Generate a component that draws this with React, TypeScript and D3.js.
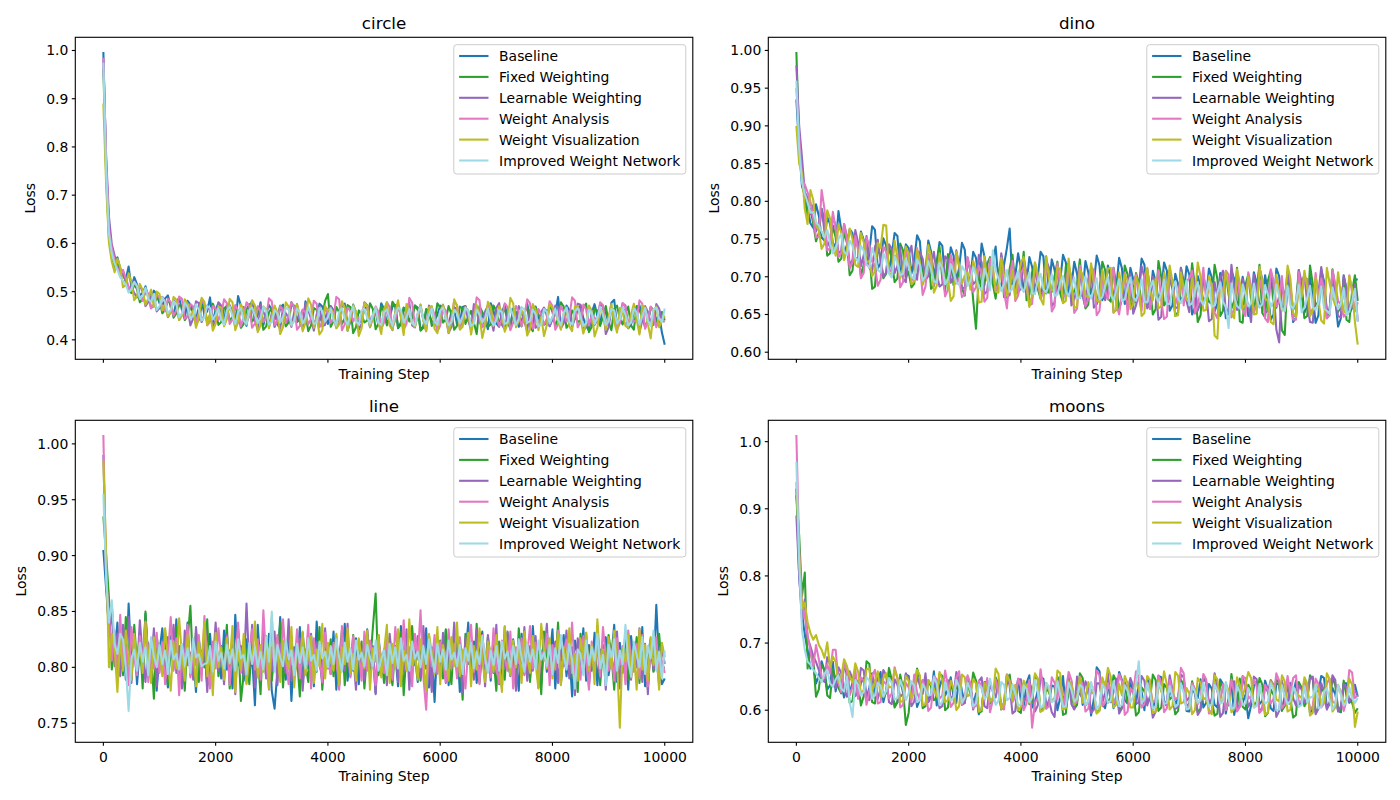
import React from "react";
import * as d3 from "d3";

// ---------- data (loss sampled every 50 training steps) ----------
const steps: number[] = d3.range(0, 10001, 50);
const seriesNames = ["Baseline", "Fixed Weighting", "Learnable Weighting", "Weight Analysis", "Weight Visualization", "Improved Weight Network"];
const seriesColors = ["#1f77b4", "#2ca02c", "#9467bd", "#e377c2", "#bcbd22", "#9edae5"];
const panelTitles = ["circle", "dino", "line", "moons"];
const xTicks = [0, 2000, 4000, 6000, 8000, 10000];
const circleTicks = [0.4, 0.5, 0.6, 0.7, 0.8, 0.9, 1.0];
const dinoTicks = [0.6, 0.65, 0.7, 0.75, 0.8, 0.85, 0.9, 0.95, 1.0];
const lineTicks = [0.75, 0.8, 0.85, 0.9, 0.95, 1.0];
const moonsTicks = [0.6, 0.7, 0.8, 0.9, 1.0];

// circle
const circleBaseline = [.997,
.760,.640,.585,.562,.571,.548,.533,.525,.552,.508,.530,.515,.492,.497,.511,.489,.483,.502,.494,.476,
.471,.486,.492,.468,.451,.479,.487,.462,.445,.481,.473,.455,.440,.470,.483,.452,.459,.488,.437,.463,
.476,.449,.438,.474,.465,.458,.433,.491,.470,.446,.429,.467,.481,.439,.452,.478,.430,.455,.472,.462,
.427,.441,.466,.473,.431,.450,.478,.466,.445,.437,.424,.480,.462,.452,.431,.444,.475,.469,.448,.433,
.470,.461,.428,.447,.466,.475,.419,.438,.473,.456,.435,.442,.463,.470,.426,.451,.458,.430,.476,.464,
.433,.446,.469,.472,.424,.436,.467,.458,.440,.449,.471,.467,.421,.428,.461,.455,.437,.440,.452,.471,
.468,.445,.429,.459,.463,.432,.436,.468,.470,.451,.425,.437,.468,.463,.449,.443,.422,.476,.461,.434,
.427,.457,.473,.448,.430,.465,.458,.427,.441,.454,.476,.441,.430,.469,.447,.436,.464,.460,.429,.447,
.452,.489,.430,.438,.471,.462,.428,.444,.463,.471,.445,.429,.419,.456,.474,.450,.433,.466,.457,.435,
.477,.483,.428,.442,.466,.458,.424,.431,.459,.468,.472,.446,.430,.437,.466,.461,.441,.452,.415,.390];
const circleFixed = [.962,
.740,.610,.572,.548,.560,.532,.541,.519,.503,.497,.515,.505,.478,.484,.499,.493,.466,.471,.488,.482,
.455,.463,.481,.476,.446,.455,.472,.470,.441,.449,.468,.466,.433,.441,.470,.472,.436,.452,.475,.460,
.431,.437,.466,.469,.440,.447,.470,.456,.425,.433,.463,.474,.438,.445,.469,.452,.421,.428,.457,.466,
.443,.448,.471,.459,.428,.436,.474,.471,.437,.443,.462,.455,.418,.430,.466,.462,.440,.449,.481,.495,
.427,.439,.468,.457,.433,.445,.472,.468,.414,.426,.461,.452,.436,.440,.476,.464,.422,.434,.469,.458,
.430,.447,.479,.470,.425,.431,.466,.455,.438,.444,.471,.462,.419,.425,.464,.459,.429,.437,.476,.467,
.436,.442,.470,.453,.421,.429,.469,.465,.433,.448,.460,.436,.412,.470,.458,.445,.427,.432,.471,.460,
.431,.451,.466,.438,.423,.463,.455,.441,.428,.457,.470,.428,.418,.466,.452,.446,.431,.435,.473,.458,
.429,.444,.478,.469,.425,.433,.461,.452,.437,.440,.467,.475,.416,.427,.464,.461,.429,.448,.470,.437,
.420,.464,.471,.443,.432,.456,.469,.430,.421,.470,.461,.449,.426,.438,.468,.462,.433,.446,.458,.440];
const circleLearnable = [.978,
.780,.655,.598,.575,.552,.541,.536,.522,.505,.512,.497,.488,.514,.499,.470,.478,.496,.490,.459,.466,
.489,.480,.447,.458,.483,.473,.441,.452,.477,.467,.430,.444,.480,.476,.437,.451,.471,.462,.428,.440,
.478,.471,.434,.448,.472,.459,.425,.436,.466,.468,.438,.450,.471,.441,.420,.473,.458,.446,.429,.455,
.465,.432,.423,.467,.455,.445,.427,.458,.474,.439,.426,.476,.462,.443,.419,.453,.470,.428,.431,.464,
.469,.450,.425,.438,.475,.469,.436,.444,.463,.456,.421,.433,.478,.472,.440,.447,.466,.441,.424,.462,
.461,.435,.420,.458,.470,.449,.433,.468,.477,.430,.426,.454,.466,.443,.418,.471,.463,.439,.425,.457,
.473,.447,.414,.427,.468,.463,.437,.452,.469,.440,.421,.474,.459,.436,.428,.459,.471,.445,.419,.466,
.476,.431,.422,.455,.465,.448,.434,.470,.458,.437,.419,.461,.470,.425,.430,.458,.467,.450,.428,.442,
.471,.467,.424,.434,.462,.456,.433,.446,.475,.473,.417,.429,.468,.460,.431,.441,.475,.468,.412,.426,
.463,.455,.428,.449,.476,.471,.430,.436,.469,.462,.415,.440,.470,.458,.435,.431,.474,.465,.441,.448];
const circleAnalysis = [.985,
.770,.630,.590,.566,.548,.536,.545,.528,.510,.502,.521,.510,.488,.481,.503,.496,.465,.474,.494,.487,
.469,.459,.485,.478,.450,.461,.490,.485,.444,.448,.474,.469,.437,.456,.481,.474,.430,.438,.470,.465,
.441,.453,.484,.476,.433,.442,.472,.461,.428,.449,.478,.470,.425,.434,.469,.458,.437,.447,.486,.480,
.430,.440,.470,.462,.435,.451,.478,.468,.421,.429,.463,.457,.432,.444,.481,.475,.426,.437,.465,.455,
.435,.446,.489,.484,.420,.432,.467,.460,.438,.450,.444,.439,.477,.471,.427,.443,.469,.458,.423,.436,
.478,.468,.425,.441,.470,.455,.422,.433,.487,.477,.431,.448,.473,.440,.429,.463,.468,.452,.417,.429,
.469,.460,.431,.445,.481,.472,.424,.438,.466,.456,.425,.447,.488,.482,.426,.431,.472,.464,.439,.450,
.429,.443,.476,.468,.420,.435,.470,.459,.428,.449,.484,.476,.423,.439,.464,.453,.431,.444,.480,.470,
.421,.432,.470,.458,.438,.447,.488,.481,.426,.437,.473,.463,.430,.451,.446,.440,.478,.472,.425,.446,
.467,.459,.421,.434,.476,.468,.430,.452,.438,.441,.482,.475,.423,.438,.469,.456,.426,.445,.440,.437];
const circleVisual = [.890,
.720,.600,.562,.540,.568,.552,.509,.514,.538,.520,.482,.491,.516,.503,.473,.486,.504,.468,.500,.495,
.461,.472,.448,.457,.489,.483,.441,.450,.484,.475,.445,.461,.425,.445,.487,.479,.431,.454,.419,.433,
.470,.466,.428,.443,.485,.478,.420,.438,.474,.460,.437,.452,.482,.471,.416,.430,.469,.463,.424,.448,
.471,.457,.412,.426,.478,.469,.430,.441,.474,.452,.418,.435,.486,.473,.425,.447,.411,.420,.470,.461,
.466,.454,.424,.432,.480,.466,.419,.443,.472,.459,.408,.424,.476,.470,.427,.448,.467,.437,.412,.463,
.478,.429,.421,.457,.482,.446,.410,.474,.462,.434,.427,.451,.473,.440,.418,.467,.470,.423,.414,.458,
.472,.449,.415,.436,.484,.470,.421,.427,.468,.461,.411,.444,.472,.453,.404,.430,.479,.468,.429,.441,
.470,.458,.417,.433,.487,.476,.426,.439,.461,.450,.409,.422,.474,.463,.420,.447,.408,.431,.475,.466,
.456,.440,.421,.455,.466,.428,.418,.469,.470,.445,.413,.434,.471,.460,.407,.425,.466,.457,.421,.448,
.474,.437,.415,.466,.458,.429,.425,.453,.475,.442,.411,.471,.466,.432,.403,.459,.469,.426,.441,.450];
const circleImproved = [.975,
.750,.620,.580,.558,.545,.530,.522,.515,.498,.505,.520,.512,.485,.492,.508,.484,.479,.495,.462,.470,
.488,.478,.455,.462,.480,.474,.447,.455,.477,.468,.444,.450,.473,.463,.440,.447,.470,.466,.442,.452,
.465,.444,.431,.461,.469,.449,.433,.458,.466,.440,.432,.462,.467,.451,.435,.446,.469,.459,.432,.437,
.462,.455,.436,.448,.467,.463,.430,.439,.465,.457,.434,.445,.468,.452,.433,.436,.466,.460,.438,.447,
.464,.441,.430,.458,.466,.443,.431,.454,.469,.438,.432,.461,.465,.446,.434,.450,.467,.435,.431,.457,
.463,.444,.429,.453,.467,.462,.436,.447,.464,.434,.430,.456,.468,.443,.433,.451,.465,.438,.431,.460,
.467,.445,.430,.437,.462,.455,.434,.448,.466,.460,.429,.433,.463,.452,.436,.446,.465,.441,.430,.441,
.462,.457,.433,.436,.466,.450,.431,.444,.468,.462,.435,.439,.463,.453,.428,.431,.464,.458,.434,.447,
.465,.442,.430,.455,.467,.437,.432,.460,.466,.449,.429,.434,.463,.456,.433,.445,.468,.451,.431,.438,
.464,.461,.434,.443,.467,.452,.430,.436,.465,.457,.432,.448,.466,.440,.429,.463,.467,.444,.437,.465];

// dino
const dinoBaseline = [.935,
.870,.820,.808,.792,.771,.765,.796,.781,.752,.748,.779,.770,.745,.739,.787,.762,.731,.742,.763,.758,
.722,.726,.760,.749,.716,.733,.767,.762,.711,.718,.751,.741,.709,.729,.758,.754,.706,.715,.743,.738,
.704,.722,.755,.747,.699,.708,.748,.733,.701,.719,.746,.741,.695,.703,.739,.728,.694,.712,.745,.736,
.690,.699,.733,.725,.693,.744,.727,.707,.689,.721,.740,.693,.686,.716,.738,.764,.690,.702,.731,.711,
.683,.689,.726,.713,.680,.700,.733,.727,.678,.684,.723,.709,.681,.695,.729,.719,.675,.687,.720,.704,
.672,.681,.721,.706,.677,.692,.728,.715,.669,.677,.715,.699,.674,.686,.725,.711,.664,.671,.712,.697,
.666,.683,.724,.716,.661,.668,.708,.694,.670,.679,.719,.708,.655,.662,.704,.690,.667,.676,.714,.703,
.650,.659,.701,.688,.668,.673,.711,.699,.654,.664,.705,.685,.645,.652,.708,.697,.662,.670,.700,.681,
.648,.657,.706,.692,.660,.666,.702,.679,.643,.650,.711,.701,.657,.663,.698,.675,.640,.646,.705,.688,
.652,.661,.699,.673,.639,.649,.709,.694,.655,.656,.697,.670,.634,.645,.702,.683,.651,.659,.697,.696];
const dinoFixed = [.998,
.880,.845,.800,.782,.790,.771,.747,.758,.790,.776,.728,.731,.768,.752,.720,.724,.760,.745,.702,.708,
.751,.739,.701,.716,.745,.731,.684,.687,.739,.727,.698,.704,.742,.722,.693,.698,.744,.735,.699,.707,
.686,.691,.735,.723,.704,.711,.730,.684,.688,.718,.740,.696,.681,.730,.720,.689,.694,.706,.685,.675,
.719,.712,.669,.631,.704,.682,.689,.717,.726,.690,.671,.705,.722,.673,.683,.711,.729,.687,.678,.699,
.733,.669,.676,.706,.715,.684,.671,.694,.727,.679,.680,.701,.720,.678,.666,.714,.718,.672,.681,.690,
.723,.681,.658,.663,.713,.698,.664,.676,.720,.709,.671,.667,.712,.688,.657,.671,.715,.703,.665,.660,
.705,.692,.664,.674,.710,.685,.650,.657,.721,.700,.662,.668,.709,.681,.648,.653,.712,.694,.669,.672,
.718,.686,.640,.649,.701,.679,.667,.664,.716,.697,.648,.655,.706,.676,.658,.668,.712,.641,.639,.689,
.703,.670,.651,.683,.716,.652,.646,.695,.708,.661,.659,.674,.629,.623,.698,.687,.656,.665,.709,.678,
.645,.648,.715,.690,.661,.667,.704,.676,.645,.654,.710,.685,.653,.662,.697,.643,.640,.681,.702,.668];
const dinoLearnable = [.980,
.900,.858,.812,.805,.783,.795,.760,.772,.790,.760,.740,.748,.781,.766,.731,.735,.770,.754,.716,.722,
.762,.745,.714,.729,.754,.712,.706,.740,.749,.720,.700,.706,.743,.737,.705,.714,.739,.698,.693,.728,
.741,.709,.696,.733,.724,.695,.701,.716,.733,.704,.687,.690,.727,.723,.692,.700,.735,.713,.684,.686,
.725,.707,.690,.694,.729,.719,.677,.681,.721,.702,.684,.688,.731,.710,.672,.676,.718,.698,.680,.684,
.724,.705,.667,.671,.716,.692,.678,.680,.722,.712,.661,.666,.710,.689,.680,.701,.709,.662,.670,.686,
.713,.674,.660,.697,.711,.659,.664,.683,.708,.669,.685,.705,.653,.656,.702,.681,.675,.692,.704,.651,
.662,.678,.714,.699,.658,.664,.700,.688,.643,.647,.706,.675,.690,.696,.658,.660,.712,.683,.668,.653,
.707,.691,.655,.666,.701,.680,.641,.644,.693,.673,.698,.708,.652,.658,.716,.684,.656,.662,.697,.675,
.662,.640,.703,.679,.712,.697,.652,.655,.704,.686,.630,.613,.690,.671,.707,.682,.647,.650,.709,.693,
.702,.665,.640,.639,.699,.678,.713,.688,.653,.657,.707,.672,.648,.646,.701,.684,.657,.660,.690,.641];
const dinoAnalysis = [.950,
.885,.830,.822,.812,.800,.778,.752,.753,.815,.790,.735,.738,.786,.763,.726,.731,.770,.749,.711,.719,
.754,.735,.698,.705,.752,.742,.720,.715,.688,.696,.740,.733,.706,.710,.727,.729,.686,.693,.735,.721,
.695,.700,.738,.717,.676,.687,.730,.725,.690,.694,.722,.707,.674,.683,.729,.714,.691,.698,.673,.677,
.726,.709,.680,.686,.715,.703,.667,.672,.724,.711,.682,.691,.710,.680,.658,.699,.721,.668,.675,.705,
.712,.685,.662,.664,.719,.696,.672,.678,.709,.707,.654,.661,.718,.689,.675,.674,.713,.701,.652,.658,
.715,.687,.661,.670,.714,.708,.649,.655,.697,.682,.670,.694,.712,.663,.650,.678,.705,.650,.687,.690,
.703,.672,.655,.701,.711,.657,.674,.684,.709,.668,.644,.647,.705,.693,.663,.676,.700,.662,.694,.698,
.708,.651,.663,.680,.712,.669,.686,.691,.652,.645,.694,.677,.708,.703,.646,.659,.702,.672,.656,.648,
.706,.688,.653,.664,.697,.679,.645,.640,.710,.695,.661,.667,.701,.654,.676,.686,.643,.643,.706,.675,
.699,.697,.650,.658,.705,.671,.698,.683,.645,.649,.709,.690,.668,.663,.647,.652,.702,.679,.654,.666];
const dinoVisual = [.900,
.850,.838,.790,.770,.815,.802,.768,.761,.737,.744,.788,.777,.742,.728,.770,.758,.722,.736,.764,.750,
.716,.713,.758,.746,.719,.721,.701,.707,.745,.738,.769,.768,.706,.701,.748,.724,.698,.711,.740,.731,
.690,.694,.736,.719,.689,.703,.742,.727,.679,.688,.731,.712,.694,.697,.668,.674,.733,.715,.691,.702,
.706,.683,.721,.708,.666,.667,.727,.695,.713,.713,.680,.679,.725,.702,.675,.686,.709,.671,.697,.719,
.726,.692,.660,.676,.719,.704,.671,.663,.726,.698,.682,.682,.713,.710,.665,.668,.724,.689,.659,.660,
.710,.703,.675,.673,.718,.691,.669,.666,.709,.684,.711,.712,.652,.657,.706,.679,.703,.695,.657,.664,
.701,.688,.648,.652,.712,.681,.669,.698,.658,.661,.705,.676,.715,.693,.648,.649,.706,.685,.670,.667,
.698,.674,.719,.700,.655,.656,.701,.689,.622,.618,.693,.671,.707,.684,.651,.645,.710,.692,.658,.663,
.700,.679,.650,.651,.713,.694,.671,.668,.640,.637,.703,.682,.655,.660,.715,.698,.652,.647,.691,.673,
.708,.686,.648,.655,.699,.669,.642,.638,.712,.691,.673,.662,.706,.677,.655,.650,.701,.684,.640,.610];
const dinoImproved = [.960,
.870,.825,.810,.798,.785,.786,.772,.768,.760,.752,.762,.745,.731,.738,.750,.757,.733,.729,.748,.741,
.725,.720,.741,.734,.716,.712,.738,.727,.709,.706,.731,.722,.704,.699,.727,.718,.702,.704,.724,.713,
.700,.697,.723,.716,.695,.701,.721,.709,.694,.692,.719,.711,.690,.696,.717,.705,.692,.689,.714,.708,
.688,.694,.713,.702,.686,.683,.711,.700,.682,.735,.708,.698,.681,.691,.709,.680,.684,.697,.707,.686,
.680,.693,.706,.678,.677,.695,.704,.684,.679,.690,.703,.675,.676,.692,.701,.681,.674,.687,.699,.672,
.672,.689,.701,.679,.671,.685,.698,.670,.673,.688,.700,.676,.669,.682,.697,.668,.670,.686,.699,.673,
.668,.680,.697,.667,.666,.684,.695,.674,.667,.678,.696,.664,.664,.683,.694,.671,.665,.676,.695,.662,
.665,.681,.693,.669,.663,.675,.694,.660,.662,.679,.692,.667,.660,.632,.691,.673,.661,.658,.690,.677,
.661,.665,.691,.671,.659,.664,.689,.676,.660,.669,.690,.674,.657,.655,.688,.662,.658,.667,.689,.653,
.659,.672,.688,.660,.656,.666,.687,.658,.655,.651,.686,.670,.657,.664,.685,.649,.654,.668,.684,.640];

// line
const lineBaseline = [.905,
.870,.835,.856,.812,.840,.798,.831,.789,.857,.803,.824,.785,.817,.796,.848,.808,.790,.826,.779,.814,
.835,.801,.782,.828,.799,.843,.787,.820,.805,.840,.793,.811,.778,.826,.803,.816,.784,.830,.796,.819,
.807,.790,.833,.798,.815,.781,.847,.802,.819,.788,.825,.795,.810,.766,.838,.800,.816,.792,.830,.779,
.763,.797,.845,.806,.789,.823,.770,.818,.801,.836,.786,.813,.799,.828,.783,.841,.804,.791,.821,.808,
.794,.832,.780,.815,.803,.839,.788,.811,.797,.826,.785,.819,.806,.834,.792,.813,.777,.829,.800,.816,
.789,.827,.798,.812,.783,.837,.805,.820,.795,.831,.810,.787,.824,.799,.835,.782,.818,.769,.822,.806,
.791,.833,.784,.819,.802,.826,.778,.814,.809,.840,.796,.823,.786,.811,.832,.794,.817,.788,.828,.801,
.815,.782,.836,.804,.793,.825,.807,.779,.830,.798,.813,.790,.837,.803,.821,.785,.827,.796,.809,.834,
.781,.818,.806,.829,.792,.815,.774,.824,.811,.801,.835,.788,.820,.797,.831,.784,.816,.805,.827,.793,
.810,.838,.787,.822,.799,.814,.780,.828,.804,.819,.791,.836,.783,.812,.825,.797,.856,.802,.785,.790];
const lineFixed = [.935,
.900,.862,.798,.830,.807,.821,.793,.845,.809,.789,.838,.803,.826,.781,.850,.797,.815,.772,.828,.806,
.795,.833,.784,.818,.802,.837,.790,.811,.779,.824,.855,.796,.831,.787,.815,.800,.843,.783,.809,.827,
.792,.819,.804,.838,.781,.812,.797,.829,.770,.794,.816,.785,.825,.801,.810,.776,.834,.798,.821,.788,
.813,.806,.840,.782,.817,.799,.828,.791,.809,.774,.831,.803,.787,.822,.811,.796,.836,.780,.815,.801,
.825,.792,.818,.807,.833,.784,.812,.798,.829,.789,.805,.823,.781,.814,.802,.835,.866,.793,.810,.786,
.827,.800,.784,.819,.806,.832,.775,.815,.797,.837,.802,.821,.788,.811,.799,.829,.783,.816,.804,.824,
.790,.834,.808,.785,.826,.797,.812,.771,.830,.803,.818,.792,.839,.786,.814,.801,.827,.795,.810,.779,
.823,.805,.789,.831,.798,.816,.782,.835,.807,.794,.820,.787,.828,.800,.813,.776,.832,.809,.796,.819,
.803,.840,.785,.817,.799,.826,.791,.812,.778,.830,.806,.822,.788,.815,.801,.834,.784,.818,.797,.829,
.811,.780,.823,.806,.795,.832,.789,.814,.802,.827,.786,.819,.808,.781,.824,.796,.812,.830,.799,.800];
const lineLearnable = [.990,
.880,.828,.852,.801,.830,.792,.838,.806,.845,.786,.829,.798,.842,.810,.787,.822,.800,.835,.783,.818,
.804,.791,.827,.810,.838,.795,.819,.781,.833,.802,.813,.789,.836,.807,.794,.825,.778,.816,.803,.840,
.797,.811,.785,.829,.801,.820,.776,.834,.808,.793,.857,.799,.838,.782,.814,.806,.827,.790,.817,.797,
.832,.784,.821,.809,.795,.843,.788,.813,.800,.826,.779,.816,.803,.830,.791,.822,.807,.786,.835,.799,
.818,.805,.828,.783,.815,.797,.839,.792,.811,.780,.824,.808,.789,.833,.801,.819,.776,.826,.795,.812,
.784,.830,.803,.818,.787,.825,.796,.834,.780,.815,.806,.828,.791,.837,.799,.813,.778,.823,.809,.792,
.831,.786,.819,.802,.840,.794,.812,.777,.827,.805,.816,.789,.834,.798,.821,.783,.829,.807,.795,.838,
.785,.817,.800,.832,.792,.822,.779,.811,.804,.836,.788,.819,.797,.828,.782,.814,.809,.839,.793,.806,
.823,.786,.815,.801,.833,.790,.818,.775,.826,.808,.797,.831,.784,.812,.803,.837,.791,.820,.780,.824,
.809,.795,.832,.781,.817,.806,.828,.789,.813,.800,.835,.787,.821,.776,.826,.798,.811,.784,.819,.803];
const lineAnalysis = [1.008,
.880,.845,.806,.833,.790,.847,.801,.818,.784,.836,.810,.793,.828,.804,.841,.787,.816,.799,.831,.795,
.822,.785,.812,.845,.797,.826,.775,.819,.805,.838,.791,.814,.802,.829,.788,.846,.807,.781,.823,.799,
.835,.809,.792,.827,.784,.817,.803,.840,.795,.821,.786,.812,.834,.798,.825,.789,.851,.806,.780,.818,
.801,.829,.792,.843,.808,.785,.823,.797,.834,.790,.817,.804,.838,.781,.826,.799,.812,.787,.831,.806,
.794,.822,.809,.780,.837,.803,.819,.791,.828,.800,.815,.788,.832,.797,.824,.806,.784,.821,.810,.795,
.827,.802,.789,.836,.811,.794,.842,.798,.818,.783,.830,.807,.851,.792,.762,.818,.801,.829,.794,.823,
.808,.787,.834,.799,.821,.790,.827,.805,.781,.816,.838,.796,.812,.785,.829,.803,.819,.791,.835,.800,
.786,.824,.809,.797,.832,.781,.818,.804,.826,.793,.810,.837,.799,.822,.788,.815,.806,.830,.784,.820,
.798,.833,.786,.812,.825,.803,.840,.794,.816,.789,.828,.807,.780,.823,.801,.817,.792,.836,.809,.797,
.814,.788,.826,.802,.819,.785,.833,.808,.796,.821,.790,.829,.805,.783,.818,.811,.827,.794,.806,.795];
const lineVisual = [.985,
.900,.800,.830,.816,.778,.825,.797,.833,.808,.789,.830,.803,.821,.795,.840,.812,.786,.827,.804,.818,
.792,.835,.807,.779,.823,.799,.844,.810,.788,.829,.801,.816,.783,.822,.806,.840,.792,.814,.775,.831,
.800,.818,.789,.826,.803,.837,.778,.815,.798,.830,.785,.812,.804,.841,.791,.820,.796,.828,.781,.845,
.802,.813,.787,.824,.808,.799,.836,.782,.819,.805,.832,.793,.811,.828,.786,.816,.801,.839,.790,.822,
.807,.797,.830,.784,.818,.803,.835,.795,.812,.788,.826,.808,.799,.833,.780,.817,.805,.829,.791,.814,
.838,.786,.821,.800,.834,.783,.815,.797,.843,.802,.811,.789,.825,.806,.779,.830,.813,.794,.836,.785,
.820,.809,.788,.827,.801,.840,.792,.816,.805,.831,.783,.819,.798,.835,.807,.787,.823,.812,.796,.829,
.804,.778,.837,.810,.793,.824,.800,.818,.786,.832,.809,.795,.828,.803,.781,.839,.815,.799,.826,.790,
.812,.830,.784,.818,.803,.835,.795,.812,.788,.826,.808,.831,.797,.820,.785,.843,.804,.816,.791,.827,
.799,.833,.806,.746,.817,.805,.829,.791,.814,.780,.834,.798,.820,.788,.827,.802,.815,.780,.822,.809];
const lineImproved = [.955,
.880,.840,.860,.821,.812,.830,.825,.799,.761,.808,.816,.797,.822,.805,.818,.793,.827,.810,.800,.820,
.803,.815,.794,.824,.807,.812,.798,.821,.802,.817,.795,.826,.809,.812,.801,.803,.804,.819,.796,.823,
.806,.813,.799,.820,.804,.816,.797,.825,.808,.811,.794,.822,.803,.818,.800,.814,.798,.827,.805,.850,
.796,.820,.809,.801,.824,.807,.815,.793,.821,.804,.818,.799,.826,.806,.811,.797,.823,.808,.814,.800,
.819,.803,.825,.809,.796,.822,.805,.817,.798,.824,.807,.813,.801,.820,.809,.801,.824,.797,.807,.815,
.793,.821,.804,.818,.799,.826,.806,.811,.797,.823,.808,.814,.800,.819,.803,.825,.809,.796,.821,.805,
.816,.798,.824,.807,.813,.801,.820,.794,.817,.806,.822,.799,.814,.803,.828,.808,.795,.815,.802,.819,
.797,.823,.808,.814,.800,.819,.803,.825,.809,.796,.821,.805,.816,.798,.824,.807,.813,.801,.820,.794,
.817,.804,.829,.810,.798,.821,.807,.781,.816,.812,.793,.824,.802,.818,.806,.830,.799,.811,.784,.820,
.809,.825,.797,.815,.803,.838,.806,.792,.823,.811,.800,.827,.794,.819,.808,.833,.797,.814,.790,.815];

// moons
const moonsBaseline = [.930,
.800,.745,.712,.690,.662,.668,.640,.651,.673,.659,.631,.637,.672,.628,.655,.641,.619,.655,.626,.641,
.650,.622,.641,.648,.617,.634,.655,.619,.642,.657,.612,.630,.651,.643,.606,.612,.648,.626,.653,.651,
.621,.639,.605,.616,.644,.645,.613,.623,.658,.607,.634,.648,.622,.631,.649,.620,.611,.653,.628,.611,
.646,.637,.609,.625,.594,.602,.639,.644,.610,.618,.643,.633,.604,.609,.641,.650,.616,.621,.646,.614,
.603,.640,.652,.604,.612,.629,.649,.647,.605,.612,.637,.635,.600,.619,.651,.601,.629,.642,.606,.624,
.647,.608,.619,.636,.592,.617,.664,.658,.610,.603,.630,.631,.603,.622,.657,.645,.615,.610,.640,.627,
.609,.641,.627,.600,.648,.633,.602,.616,.651,.649,.613,.606,.624,.628,.607,.620,.644,.637,.599,.598,
.633,.625,.618,.646,.604,.611,.639,.632,.608,.604,.646,.639,.595,.618,.640,.593,.617,.636,.611,.623,
.588,.607,.636,.643,.609,.614,.644,.630,.603,.599,.640,.638,.599,.621,.646,.609,.624,.644,.606,.612,
.640,.634,.596,.602,.631,.627,.651,.648,.604,.611,.633,.624,.599,.597,.640,.640,.611,.616,.638,.620];
const moonsFixed = [.920,
.860,.770,.805,.662,.690,.675,.620,.631,.668,.660,.622,.618,.661,.646,.633,.625,.671,.652,.611,.614,
.648,.640,.607,.621,.673,.669,.612,.610,.654,.636,.619,.626,.663,.645,.604,.612,.653,.632,.578,.596,
.640,.628,.662,.647,.603,.606,.645,.635,.615,.617,.654,.651,.600,.604,.639,.629,.633,.641,.610,.613,
.645,.622,.656,.644,.597,.598,.642,.631,.611,.615,.649,.639,.601,.607,.648,.653,.615,.619,.599,.596,
.640,.634,.609,.612,.652,.646,.598,.603,.633,.627,.614,.617,.650,.641,.593,.595,.638,.630,.602,.608,
.655,.648,.607,.613,.629,.625,.596,.600,.646,.637,.611,.619,.652,.643,.598,.605,.640,.611,.627,.632,
.592,.597,.634,.628,.615,.616,.653,.645,.599,.604,.639,.633,.616,.621,.594,.599,.645,.639,.605,.610,
.643,.626,.597,.602,.648,.642,.607,.615,.592,.595,.641,.635,.604,.608,.654,.624,.601,.647,.605,.601,
.638,.629,.607,.612,.648,.638,.591,.596,.631,.623,.646,.640,.600,.606,.637,.618,.589,.593,.642,.634,
.606,.614,.652,.645,.597,.603,.633,.627,.604,.609,.649,.637,.600,.598,.644,.621,.615,.611,.596,.603];
const moonsLearnable = [.890,
.800,.735,.765,.708,.695,.681,.672,.660,.648,.642,.679,.668,.638,.633,.664,.655,.628,.620,.658,.647,
.621,.628,.663,.659,.619,.615,.649,.641,.617,.632,.660,.652,.612,.609,.646,.638,.620,.624,.655,.647,
.606,.613,.651,.637,.624,.655,.612,.619,.648,.630,.603,.606,.642,.645,.617,.622,.657,.640,.608,.611,
.650,.634,.601,.617,.643,.649,.606,.603,.639,.628,.619,.642,.602,.612,.653,.636,.595,.599,.646,.646,
.613,.620,.641,.631,.598,.607,.649,.643,.604,.615,.597,.590,.644,.638,.616,.624,.650,.609,.601,.650,
.624,.618,.643,.633,.596,.601,.640,.640,.611,.626,.655,.612,.627,.647,.595,.603,.642,.629,.648,.636,
.612,.610,.651,.644,.607,.621,.589,.598,.641,.637,.609,.614,.652,.631,.602,.605,.653,.649,.614,.619,
.637,.628,.593,.600,.647,.642,.611,.617,.655,.634,.590,.596,.638,.625,.639,.643,.602,.608,.651,.632,
.605,.613,.650,.646,.597,.604,.636,.627,.645,.638,.590,.599,.644,.622,.609,.641,.618,.607,.637,.631,
.611,.618,.648,.650,.594,.602,.640,.629,.601,.611,.652,.645,.598,.606,.639,.633,.613,.619,.628,.624];
const moonsAnalysis = [1.010,
.840,.760,.740,.712,.688,.664,.697,.676,.650,.648,.668,.655,.690,.690,.641,.627,.671,.658,.622,.635,
.662,.617,.649,.644,.608,.629,.652,.660,.610,.612,.643,.639,.618,.625,.664,.648,.604,.608,.641,.634,
.612,.653,.626,.616,.645,.631,.599,.604,.651,.646,.617,.622,.659,.637,.605,.611,.648,.658,.609,.619,
.652,.640,.603,.607,.644,.633,.614,.648,.597,.615,.646,.627,.609,.601,.653,.644,.612,.620,.647,.636,
.600,.610,.645,.574,.611,.618,.661,.631,.602,.606,.649,.641,.616,.650,.603,.629,.657,.645,.608,.613,
.650,.637,.598,.602,.630,.624,.659,.652,.606,.611,.640,.630,.610,.617,.654,.643,.593,.598,.633,.626,
.658,.649,.604,.609,.641,.635,.612,.614,.652,.640,.597,.603,.645,.627,.616,.619,.663,.655,.603,.607,
.640,.632,.609,.616,.654,.646,.595,.600,.640,.628,.613,.639,.600,.612,.646,.624,.598,.605,.650,.648,
.617,.621,.645,.635,.596,.601,.638,.630,.610,.617,.655,.644,.603,.609,.651,.626,.648,.652,.611,.613,
.645,.631,.600,.606,.647,.639,.604,.610,.640,.647,.613,.610,.636,.628,.599,.615,.660,.656,.618,.622];
const moonsVisual = [.940,
.830,.752,.760,.731,.715,.705,.712,.697,.690,.678,.701,.664,.680,.672,.641,.649,.676,.666,.650,.641,
.670,.657,.625,.630,.661,.662,.628,.643,.658,.621,.648,.655,.634,.635,.661,.648,.612,.614,.651,.644,
.618,.626,.660,.652,.607,.609,.645,.638,.632,.620,.657,.645,.612,.615,.644,.632,.600,.606,.653,.649,
.621,.624,.646,.640,.598,.601,.641,.633,.613,.617,.662,.654,.602,.610,.652,.643,.615,.638,.600,.605,
.644,.636,.611,.619,.655,.647,.598,.600,.641,.630,.614,.614,.659,.655,.601,.603,.643,.638,.609,.621,
.649,.611,.616,.642,.628,.626,.595,.599,.649,.634,.663,.650,.604,.608,.639,.622,.651,.640,.604,.604,
.646,.631,.617,.616,.651,.645,.596,.598,.644,.627,.658,.638,.601,.606,.657,.651,.610,.612,.633,.625,
.594,.600,.648,.641,.616,.619,.599,.594,.652,.646,.610,.615,.640,.629,.597,.602,.649,.637,.620,.637,
.657,.648,.604,.608,.633,.623,.593,.597,.643,.636,.616,.613,.652,.643,.598,.601,.634,.627,.622,.618,
.649,.640,.592,.596,.639,.632,.609,.611,.655,.646,.598,.604,.638,.625,.611,.617,.647,.638,.575,.598];
const moonsImproved = [.970,
.820,.720,.690,.672,.668,.660,.655,.648,.642,.654,.660,.640,.635,.646,.652,.632,.628,.650,.612,.590,
.645,.638,.622,.627,.649,.644,.617,.622,.641,.636,.620,.629,.648,.641,.616,.618,.645,.633,.615,.625,
.643,.637,.612,.615,.639,.631,.622,.623,.649,.640,.608,.612,.642,.628,.614,.619,.645,.635,.611,.619,
.641,.630,.606,.610,.638,.634,.617,.621,.647,.627,.608,.614,.642,.638,.615,.618,.639,.625,.607,.609,
.637,.632,.612,.620,.645,.628,.604,.606,.640,.636,.612,.616,.643,.624,.605,.606,.641,.630,.613,.617,
.638,.634,.608,.613,.642,.626,.603,.607,.639,.631,.611,.614,.643,.621,.606,.608,.637,.629,.612,.620,
.640,.673,.610,.616,.640,.624,.603,.605,.641,.633,.609,.611,.636,.620,.605,.609,.640,.626,.601,.603,
.636,.628,.611,.615,.641,.622,.606,.609,.638,.630,.610,.612,.642,.618,.602,.604,.637,.627,.608,.610,
.633,.624,.604,.606,.639,.619,.610,.613,.640,.631,.600,.601,.637,.621,.609,.614,.635,.625,.605,.608,
.636,.611,.619,.620,.638,.603,.605,.628,.633,.615,.601,.609,.637,.623,.607,.612,.634,.618,.611,.618];

const circleSeries = [circleBaseline, circleFixed, circleLearnable, circleAnalysis, circleVisual, circleImproved];
const dinoSeries = [dinoBaseline, dinoFixed, dinoLearnable, dinoAnalysis, dinoVisual, dinoImproved];
const lineSeries = [lineBaseline, lineFixed, lineLearnable, lineAnalysis, lineVisual, lineImproved];
const moonsSeries = [moonsBaseline, moonsFixed, moonsLearnable, moonsAnalysis, moonsVisual, moonsImproved];

// ---------- layout ----------
const W = 1400, H = 800;
const colLeft = [75.3, 768.3];
const rowTop = [37.3, 420.3];
const axW = 617.5, axH = 322;
const FONT = "DejaVu Sans, sans-serif";
const fs = 13.9;

const panels = [
  { title: panelTitles[0], series: circleSeries, yTicks: circleTicks, col: 0, row: 0, dec: 1 },
  { title: panelTitles[1], series: dinoSeries, yTicks: dinoTicks, col: 1, row: 0, dec: 2 },
  { title: panelTitles[2], series: lineSeries, yTicks: lineTicks, col: 0, row: 1, dec: 2 },
  { title: panelTitles[3], series: moonsSeries, yTicks: moonsTicks, col: 1, row: 1, dec: 1 },
];

function textWidth(s: string) {
  let w = 0;
  for (const ch of s) w += ch === "." ? 0.318 : 0.636;
  return w * fs;
}

function Panel({ p, idx }: { p: any; idx: number }) {
  const left = colLeft[p.col], top = rowTop[p.row];
  const xmin = d3.min(steps)!, xmax = d3.max(steps)!;
  const xr = xmax - xmin;
  const x = d3.scaleLinear().domain([xmin - 0.05 * xr, xmax + 0.05 * xr]).range([left, left + axW]);
  const all = (p.series as number[][]).flat();
  const ymin = d3.min(all)!, ymax = d3.max(all)!;
  const yr = ymax - ymin;
  const y = d3.scaleLinear().domain([ymin - 0.05 * yr, ymax + 0.05 * yr]).range([top + axH, top]);
  const line = d3
    .line<number>()
    .defined((_, i) => i < steps.length)
    .x((_, i) => x(steps[i]))
    .y((d) => y(d));
  const fmt = d3.format(`.${p.dec}f`);
  const bottom = top + axH;
  const showXLabels = p.row === 1;
  const maxTW = d3.max(p.yTicks as number[], (t) => textWidth(fmt(t)))!;
  const ylabX = left - 7 - maxTW - 11;
  const clipId = `clip${idx}`;
  const legW = 232, legH = 129.3;
  const legX = left + axW - 7 - legW, legY = top + 7.4;
  return (
    <g>
      <defs>
        <clipPath id={clipId}>
          <rect x={left} y={top} width={axW} height={axH} />
        </clipPath>
      </defs>
      <g clipPath={`url(#${clipId})`}>
        {(p.series as number[][]).map((s, i) => (
          <path key={i} d={line(s) || ""} fill="none" stroke={seriesColors[i]} strokeWidth={2.08} strokeLinejoin="round" />
        ))}
      </g>
      <rect x={left} y={top} width={axW} height={axH} fill="none" stroke="#000" strokeWidth={1.1} />
      {xTicks.map((t) => (
        <g key={t}>
          <line x1={x(t)} x2={x(t)} y1={bottom} y2={bottom + 3.5} stroke="#000" strokeWidth={1.1} />
          {showXLabels && (
            <text x={x(t)} y={bottom + 19.5} textAnchor="middle" fontSize={fs} fontFamily={FONT}>{t}</text>
          )}
        </g>
      ))}
      {(p.yTicks as number[]).map((t) => (
        <g key={t}>
          <line x1={left - 3.5} x2={left} y1={y(t)} y2={y(t)} stroke="#000" strokeWidth={1.1} />
          <text x={left - 7} y={y(t) + 5} textAnchor="end" fontSize={fs} fontFamily={FONT}>{fmt(t)}</text>
        </g>
      ))}
      <text x={left + axW / 2} y={top - 8.3} textAnchor="middle" fontSize={16.7} fontFamily={FONT}>{p.title}</text>
      <text x={left + axW / 2} y={showXLabels ? bottom + 38.5 : bottom + 20} textAnchor="middle" fontSize={fs} fontFamily={FONT}>Training Step</text>
      <text transform={`translate(${ylabX},${top + axH / 2}) rotate(-90)`} textAnchor="middle" fontSize={fs} fontFamily={FONT}>Loss</text>
      <rect x={legX} y={legY} width={legW} height={legH} rx={2.8} fill="#fff" fillOpacity={0.8} stroke="#cccccc" strokeWidth={1} />
      {seriesNames.map((n, i) => {
        const ly = legY + 11.3 + i * 20.9;
        return (
          <g key={n}>
            <line x1={legX + 5.3} x2={legX + 34.7} y1={ly} y2={ly} stroke={seriesColors[i]} strokeWidth={2.08} />
            <text x={legX + 45.3} y={ly + 5} fontSize={fs} fontFamily={FONT}>{n}</text>
          </g>
        );
      })}
    </g>
  );
}

export default function App() {
  return (
    <svg width={W} height={H} style={{ position: "absolute", left: 0, top: 0, background: "#fff" }}>
      <rect x={0} y={0} width={W} height={H} fill="#fff" />
      {panels.map((p, i) => (
        <Panel key={i} p={p} idx={i} />
      ))}
    </svg>
  );
}
